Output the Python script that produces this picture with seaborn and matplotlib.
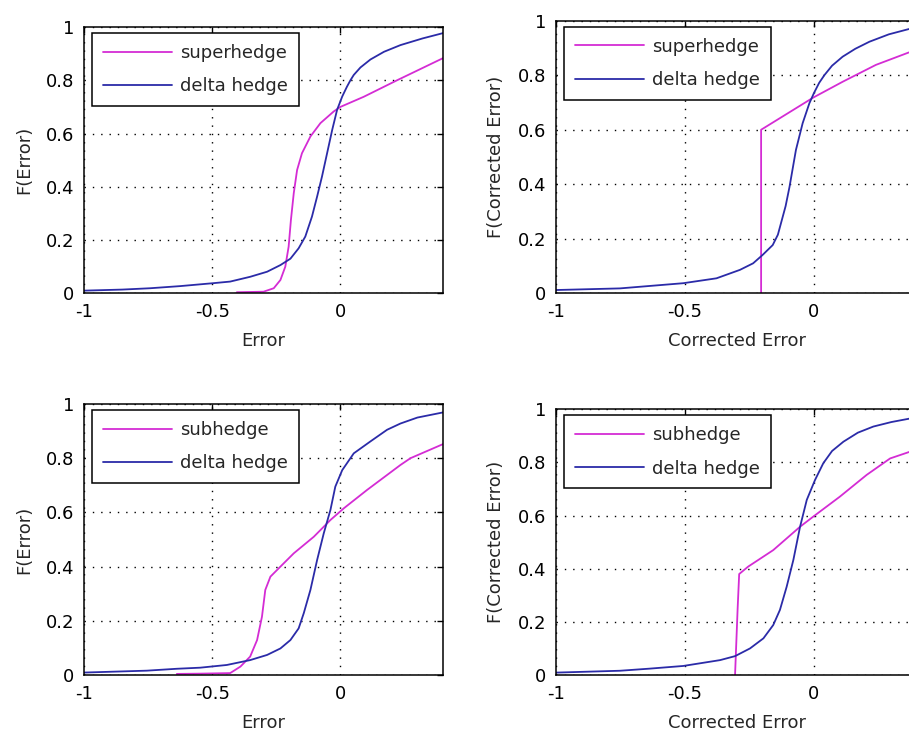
import numpy as np
import pandas as pd
import matplotlib
matplotlib.use("Agg")
import matplotlib.pyplot as plt
import seaborn as sns

# ---------------- data ----------------
# Top-left: Error CDF, superhedge vs delta hedge
tl_delta_x = [-1.0, -0.85, -0.742, -0.625, -0.496, -0.43, -0.352, -0.286, -0.234, -0.195,
              -0.163, -0.137, -0.111, -0.091, -0.072, -0.052, -0.032, -0.013, 0.007, 0.025,
              0.039, 0.052, 0.078, 0.117, 0.17, 0.234, 0.32, 0.4]
tl_delta_y = [0.010, 0.014, 0.019, 0.027, 0.038, 0.044, 0.062, 0.081, 0.106, 0.13,
              0.169, 0.213, 0.288, 0.363, 0.438, 0.526, 0.614, 0.689, 0.739, 0.775,
              0.80, 0.82, 0.848, 0.878, 0.907, 0.932, 0.957, 0.977]
tl_super_x = [-0.404, -0.30, -0.26, -0.234, -0.215, -0.202, -0.193, -0.182, -0.169, -0.15,
              -0.117, -0.078, -0.026, 0.0, 0.091, 0.221, 0.4]
tl_super_y = [0.004, 0.006, 0.019, 0.05, 0.10, 0.175, 0.276, 0.376, 0.463, 0.526,
              0.589, 0.639, 0.683, 0.70, 0.738, 0.80, 0.883]

# Top-right: Corrected Error CDF, superhedge vs delta hedge
tr_delta_x = [-1.0, -0.752, -0.636, -0.507, -0.378, -0.287, -0.236, -0.2, -0.16, -0.14,
              -0.128, -0.11, -0.095, -0.07, -0.044, -0.018, 0.0, 0.02, 0.04, 0.07,
              0.111, 0.16, 0.215, 0.29, 0.366, 0.4]
tr_delta_y = [0.012, 0.018, 0.027, 0.037, 0.055, 0.086, 0.11, 0.14, 0.177, 0.215,
              0.257, 0.32, 0.39, 0.526, 0.624, 0.697, 0.735, 0.772, 0.80, 0.835,
              0.868, 0.897, 0.923, 0.95, 0.969, 0.975]
tr_super_x = [-0.205, -0.205, -0.003, 0.111, 0.24, 0.366, 0.4]
tr_super_y = [0.0, 0.60, 0.718, 0.776, 0.838, 0.883, 0.893]

# Bottom-left: Error CDF, subhedge vs delta hedge
bl_delta_x = [-1.0, -0.755, -0.638, -0.547, -0.443, -0.352, -0.286, -0.234, -0.195, -0.163,
              -0.143, -0.117, -0.091, -0.065, -0.039, -0.02, 0.007, 0.052, 0.117, 0.182,
              0.234, 0.3, 0.4]
bl_delta_y = [0.009, 0.016, 0.023, 0.027, 0.037, 0.055, 0.074, 0.098, 0.129, 0.172,
              0.228, 0.314, 0.424, 0.523, 0.609, 0.695, 0.756, 0.818, 0.862, 0.905,
              0.928, 0.95, 0.969]
bl_sub_x = [-0.638, -0.547, -0.43, -0.39, -0.352, -0.325, -0.306, -0.293, -0.273, -0.234,
            -0.182, -0.104, -0.039, 0.013, 0.104, 0.234, 0.273, 0.4]
bl_sub_y = [0.004, 0.005, 0.007, 0.031, 0.068, 0.129, 0.215, 0.314, 0.363, 0.40,
            0.449, 0.51, 0.572, 0.615, 0.683, 0.775, 0.80, 0.852]

# Bottom-right: Corrected Error CDF, subhedge vs delta hedge
br_delta_x = [-1.0, -0.752, -0.636, -0.507, -0.442, -0.364, -0.306, -0.248, -0.196, -0.158,
              -0.132, -0.106, -0.08, -0.054, -0.028, 0.004, 0.036, 0.07, 0.114, 0.17,
              0.23, 0.3, 0.371, 0.4]
br_delta_y = [0.009, 0.016, 0.024, 0.034, 0.044, 0.056, 0.071, 0.10, 0.138, 0.188,
              0.245, 0.332, 0.433, 0.558, 0.659, 0.734, 0.797, 0.843, 0.878, 0.912,
              0.935, 0.952, 0.965, 0.968]
br_sub_x = [-0.306, -0.302, -0.296, -0.29, -0.255, -0.158, -0.054, -0.003, 0.10, 0.204,
            0.295, 0.371, 0.4]
br_sub_y = [0.0, 0.10, 0.25, 0.38, 0.408, 0.47, 0.558, 0.596, 0.671, 0.753,
            0.815, 0.84, 0.845]

x_ticks = [-1, -0.5, 0]
x_tick_labels = ["-1", "-0.5", "0"]
y_ticks = [0, 0.2, 0.4, 0.6, 0.8, 1]
y_tick_labels = ["0", "0.2", "0.4", "0.6", "0.8", "1"]

panels = [
    dict(pos=[0.09241, 0.59877, 0.39494, 0.3643], a=(tl_super_x, tl_super_y), b=(tl_delta_x, tl_delta_y),
         la="superhedge", xlabel="Error", ylabel="F(Error)"),
    dict(pos=[0.61166, 0.59877, 0.39736, 0.3729], a=(tr_super_x, tr_super_y), b=(tr_delta_x, tr_delta_y),
         la="superhedge", xlabel="Corrected Error", ylabel="F(Corrected Error)"),
    dict(pos=[0.09241, 0.07661, 0.39494, 0.3707], a=(bl_sub_x, bl_sub_y), b=(bl_delta_x, bl_delta_y),
         la="subhedge", xlabel="Error", ylabel="F(Error)"),
    dict(pos=[0.61166, 0.07661, 0.39736, 0.3635], a=(br_sub_x, br_sub_y), b=(br_delta_x, br_delta_y),
         la="subhedge", xlabel="Corrected Error", ylabel="F(Corrected Error)"),
]

MAGENTA = "#d42cd4"
BLUE = "#2b2ba8"

sns.set_style("white")
plt.rcParams["font.family"] = ["DejaVu Sans"]
plt.rcParams["font.size"] = 13

fig = plt.figure(figsize=(9.09, 7.31), dpi=100)
fig.patch.set_facecolor("white")

for p in panels:
    ax = fig.add_axes(p["pos"])
    da = pd.DataFrame({"x": p["a"][0], "y": p["a"][1]})
    db = pd.DataFrame({"x": p["b"][0], "y": p["b"][1]})
    sns.lineplot(data=da, x="x", y="y", ax=ax, color=MAGENTA, lw=1.3,
                 estimator=None, sort=False, label=p["la"])
    sns.lineplot(data=db, x="x", y="y", ax=ax, color=BLUE, lw=1.3,
                 estimator=None, sort=False, label="delta hedge")
    ax.set_xlim(-1, 0.4)
    ax.set_ylim(0, 1)
    ax.set_xticks(x_ticks)
    ax.set_xticklabels(x_tick_labels)
    ax.set_yticks(y_ticks)
    ax.set_yticklabels(y_tick_labels)
    ax.tick_params(direction="in", length=4, width=1, top=True, right=True,
                   labelsize=13, pad=7, colors="black")
    ax.grid(True, color="black", linestyle=(0, (1, 5)), linewidth=1.0)
    for s in ax.spines.values():
        s.set_visible(True)
        s.set_color("black")
        s.set_linewidth(1.1)
    ax.set_xlabel(p["xlabel"], fontsize=13, labelpad=8)
    ax.set_ylabel(p["ylabel"], fontsize=13, labelpad=9)
    leg = ax.legend(loc="upper left", bbox_to_anchor=(0.022, 0.977), borderaxespad=0,
                    fontsize=13, handlelength=3.85, handletextpad=0.45, labelspacing=0.85,
                    borderpad=0.6, fancybox=False, framealpha=1, edgecolor="black")
    leg.get_frame().set_linewidth(1.1)

fig.savefig("out.png", dpi=100, facecolor="white")
